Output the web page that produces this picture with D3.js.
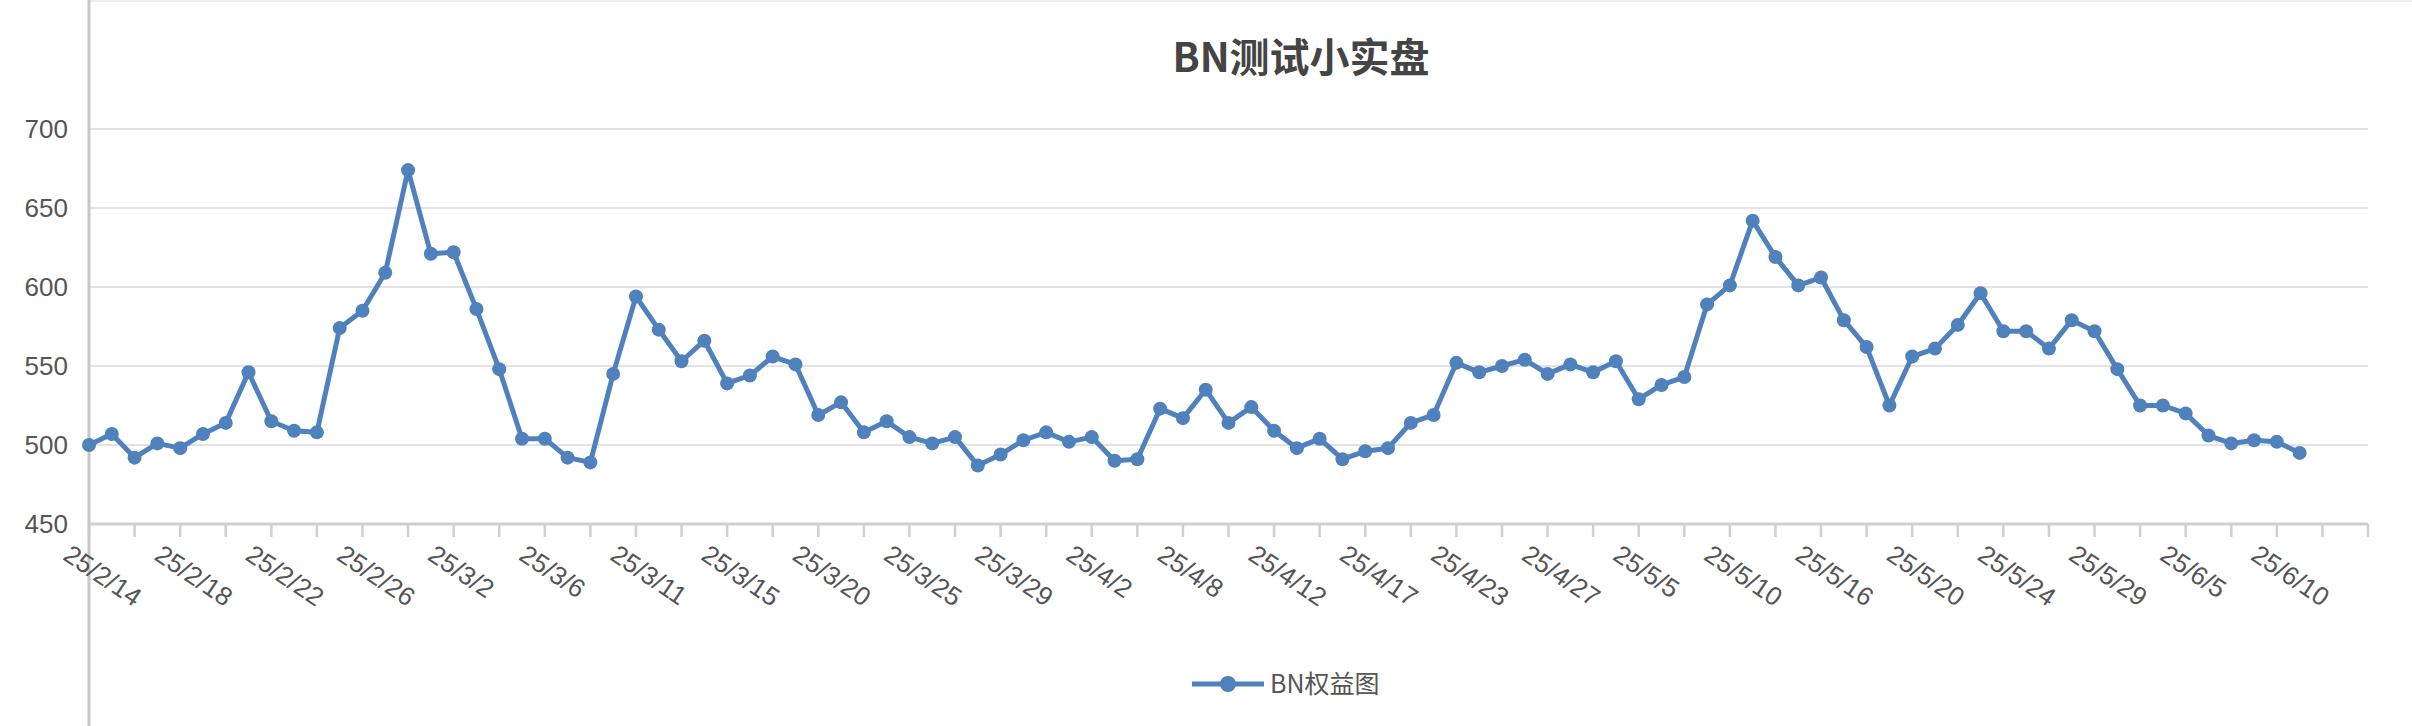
<!DOCTYPE html>
<html><head><meta charset="utf-8">
<script src="https://cdn.jsdelivr.net/npm/d3@7/dist/d3.min.js"></script>
<style>body{margin:0;background:#fff}svg{display:block}</style>
</head><body>
<svg id="c" width="2412" height="726"></svg>
<script>
const title = "BN测试小实盘";
const seriesName = "BN权益图";
const values = [500,507,492,501,498,507,514,546,515,509,508,574,585,609,674,621,622,586,548,504,504,492,489,545,594,573,553,566,539,544,556,551,
519,527,508,515,505,501,505,487,494,503,508,502,505,490,491,523,517,535,514,524,509,498,504,491,496,498,514,519,552,546,550,554,545,551,546,
553,529,538,543,589,601,642,619,601,606,579,562,525,556,561,576,596,572,572,561,579,572,548,525,525,520,506,501,503,502,495];
const tickLabels = ["25/2/14","25/2/18","25/2/22","25/2/26","25/3/2","25/3/6","25/3/11","25/3/15","25/3/20","25/3/25","25/3/29","25/4/2","25/4/8","25/4/12","25/4/17","25/4/23","25/4/27","25/5/5","25/5/10","25/5/16","25/5/20","25/5/24","25/5/29","25/6/5","25/6/10"];
const yTicks = [450,500,550,600,650,700];
const slots = 100;

const svg = d3.select("#c");
const x = d3.scaleLinear().domain([0, slots]).range([89, 2368]);
const y = d3.scaleLinear().domain([450, 700]).range([524, 129]);
const color = "#4f81bd";

// gridlines
svg.append("g").selectAll("line").data(yTicks).join("line")
  .attr("x1", 89).attr("x2", 2368).attr("y1", d => y(d)).attr("y2", d => y(d))
  .attr("stroke", d => d === 450 ? "#d0d0d0" : "#e3e3e3").attr("stroke-width", d => d===450?3:2);
svg.append("line").attr("x1",89).attr("x2",2412).attr("y1",1).attr("y2",1).attr("stroke","#eee").attr("stroke-width",2);

// y labels
svg.append("g").selectAll("text").data(yTicks).join("text")
  .attr("x", 68).attr("y", d => y(d)).attr("dy", "0.36em").attr("text-anchor", "end")
  .attr("font-family", "Liberation Sans, Arial, sans-serif").attr("font-size", 26).attr("fill", "#555")
  .text(d => d);

// x ticks
svg.append("g").selectAll("line").data(d3.range(0, slots + 1, 2)).join("line")
  .attr("x1", d => x(d)).attr("x2", d => x(d)).attr("y1", 524).attr("y2", 537)
  .attr("stroke", "#d0d0d0").attr("stroke-width", 2.5);

// y axis line
svg.append("line").attr("x1", 89).attr("x2", 89).attr("y1", 0).attr("y2", 726)
  .attr("stroke", "#c8c8c8").attr("stroke-width", 3);

// x labels
svg.append("g").selectAll("text").data(tickLabels).join("text")
  .attr("transform", (d, i) => `translate(${x(i * 4) - 20},${548}) rotate(34)`)
  .attr("dy", "0.5em")
  .attr("font-family", "Liberation Sans, Arial, sans-serif").attr("font-size", 26).attr("fill", "#555")
  .text(d => d);

// line
const line = d3.line().x((d, i) => x(i)).y(d => y(d));
svg.append("path").datum(values).attr("d", line).attr("fill", "none")
  .attr("stroke", color).attr("stroke-width", 5).attr("stroke-linejoin", "round");
svg.append("g").selectAll("circle").data(values).join("circle")
  .attr("cx", (d, i) => x(i)).attr("cy", d => y(d)).attr("r", 7).attr("fill", color);

// title
svg.append("text").attr("x", 1301).attr("y", 72).attr("text-anchor", "middle")
  .attr("font-family", "Noto Sans CJK SC, sans-serif").attr("font-weight", "bold")
  .attr("font-size", 40).attr("fill", "#444").text(title);

// legend
svg.append("line").attr("x1", 1192).attr("x2", 1264).attr("y1", 684).attr("y2", 684)
  .attr("stroke", color).attr("stroke-width", 5);
svg.append("circle").attr("cx", 1228).attr("cy", 684).attr("r", 8).attr("fill", color);
svg.append("text").attr("x", 1270).attr("y", 684).attr("dy", "0.36em")
  .attr("font-family", "Noto Sans CJK SC, sans-serif").attr("font-size", 25).attr("fill", "#555")
  .text(seriesName);
</script>
</body></html>
